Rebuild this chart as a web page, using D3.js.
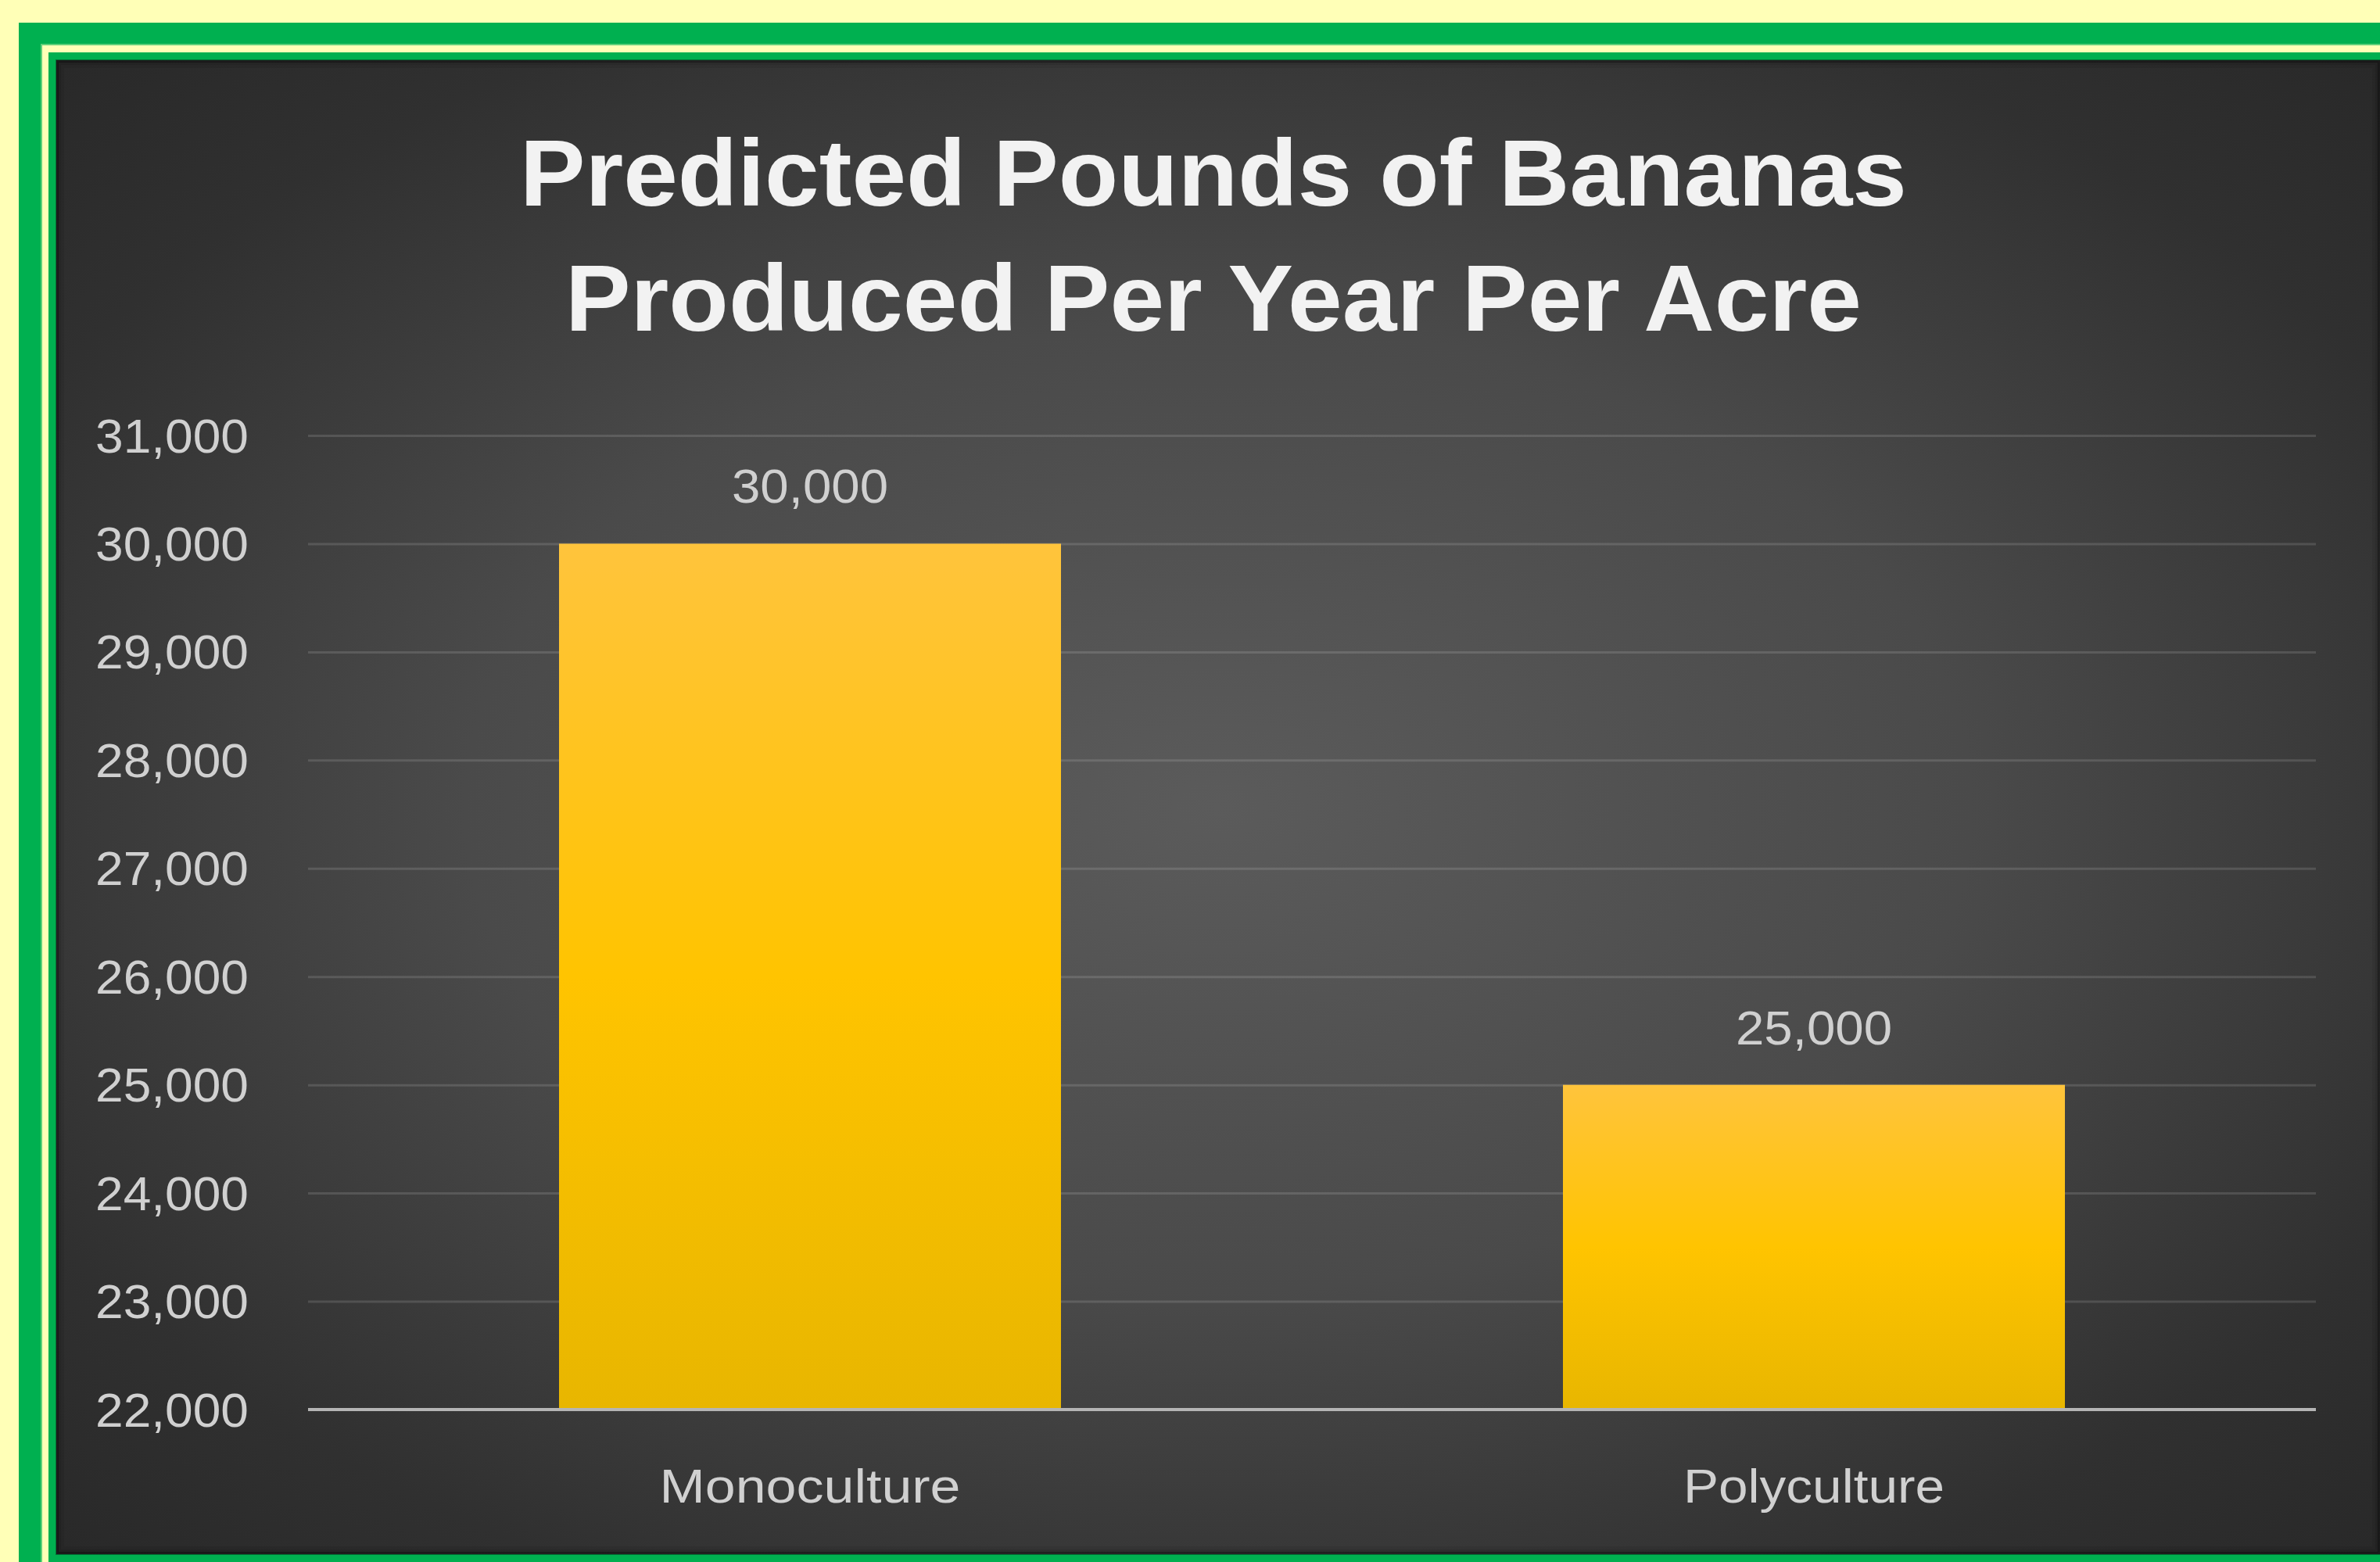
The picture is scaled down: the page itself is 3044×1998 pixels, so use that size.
<!DOCTYPE html>
<html>
<head>
<meta charset="utf-8">
<script src="https://cdn.jsdelivr.net/npm/d3@7"></script>
<style>
  html, body { margin: 0; padding: 0; background: #ffffb7; }
  svg { display: block; }
</style>
</head>
<body>
<svg id="chart" width="3044" height="1998"></svg>
<script>
// ---- data ----
const categories = ["Monoculture", "Polyculture"];
const values = [30000, 25000];
const yTicks = [22000, 23000, 24000, 25000, 26000, 27000, 28000, 29000, 30000, 31000];
const titleLines = ["Predicted Pounds of Bananas", "Produced Per Year Per Acre"];
const yDomain = [22000, 31000];

// ---- layout ----
const W = 3044, H = 1998;
const svg = d3.select("#chart");
const defs = svg.append("defs");

const FONT = "'Liberation Sans', Arial, sans-serif";

// frame
svg.append("rect").attr("x", 0).attr("y", 0).attr("width", W).attr("height", H).attr("fill", "#ffffb7");
svg.append("rect").attr("x", 24).attr("y", 29).attr("width", W).attr("height", H).attr("fill", "#00b050");
svg.append("rect").attr("x", 53).attr("y", 57).attr("width", W).attr("height", H).attr("fill", "#ffffb7")
   .attr("stroke", "#5fd07a").attr("stroke-width", 2);
svg.append("rect").attr("x", 62).attr("y", 67).attr("width", W).attr("height", H).attr("fill", "#00b050");

// panel background
const rg = defs.append("radialGradient").attr("id", "bg")
  .attr("cx", "0.5").attr("cy", "0.5").attr("r", "0.72");
rg.append("stop").attr("offset", "0").attr("stop-color", "#5b5b5b");
rg.append("stop").attr("offset", "0.45").attr("stop-color", "#4a4a4a");
rg.append("stop").attr("offset", "0.8").attr("stop-color", "#303030");
rg.append("stop").attr("offset", "1").attr("stop-color", "#282828");

const panel = {x: 72, y: 77, w: W - 72, h: 1988 - 77};
svg.append("rect").attr("x", panel.x).attr("y", panel.y).attr("width", panel.w).attr("height", panel.h)
   .attr("fill", "url(#bg)");
// inner edge shadow
const edge = svg.append("g").attr("fill", "none");
[[1, 0.35], [4, 0.15], [8, 0.07]].forEach(([o, a]) => {
  edge.append("rect").attr("x", panel.x + o).attr("y", panel.y + o)
    .attr("width", panel.w - 2 * o).attr("height", panel.h - 2 * o)
    .attr("stroke", `rgba(0,0,0,${a})`).attr("stroke-width", 4);
});

// bar gradient
const bg = defs.append("linearGradient").attr("id", "barGrad")
  .attr("x1", 0).attr("y1", 0).attr("x2", 0).attr("y2", 1);
bg.append("stop").attr("offset", "0").attr("stop-color", "#ffc43c");
bg.append("stop").attr("offset", "0.5").attr("stop-color", "#ffc400");
bg.append("stop").attr("offset", "1").attr("stop-color", "#e8b600");

// scales
const plot = {left: 394, right: 2962, top: 557, bottom: 1803};
const x = d3.scaleBand().domain(categories).range([plot.left, plot.right])
  .paddingInner(0.5).paddingOuter(0.25);
const y = d3.scaleLinear().domain(yDomain).range([plot.bottom, plot.top]);
const fmt = d3.format(",");

// title
const title = svg.append("g").attr("font-family", FONT).attr("font-weight", "bold")
  .attr("fill", "#f2f2f2").attr("font-size", 120).attr("text-anchor", "middle");
const titleY = [263, 423];
const titleW = [1774, 1658];
titleLines.forEach((t, i) => {
  title.append("text").attr("x", 1552).attr("y", titleY[i])
    .attr("textLength", titleW[i]).attr("lengthAdjust", "spacingAndGlyphs").text(t);
});

// gridlines
const grid = d3.axisLeft(y).tickValues(yTicks).tickSize(-(plot.right - plot.left)).tickFormat("");
const gg = svg.append("g").attr("transform", `translate(${plot.left},0)`).call(grid);
gg.select(".domain").remove();
gg.selectAll(".tick line").attr("stroke", "rgba(255,255,255,0.13)").attr("stroke-width", 3);
gg.selectAll(".tick").filter(d => d === yDomain[0]).remove();

// y axis labels
const yAxis = d3.axisLeft(y).tickValues(yTicks).tickSize(0).tickPadding(0).tickFormat(fmt);
const ya = svg.append("g").attr("transform", `translate(318,0)`).call(yAxis);
ya.select(".domain").remove();
ya.selectAll(".tick text").attr("font-family", FONT).attr("font-size", 62)
  .attr("fill", "#d0d0d0").attr("dy", null).attr("dominant-baseline", null)
  .attr("y", 21).attr("textLength", 196).attr("lengthAdjust", "spacingAndGlyphs");

// bars
svg.append("g").selectAll("rect").data(categories).join("rect")
  .attr("x", d => x(d)).attr("width", x.bandwidth())
  .attr("y", (d, i) => y(values[i])).attr("height", (d, i) => y(yDomain[0]) - y(values[i]))
  .attr("fill", "url(#barGrad)");

// base axis line
const xAxis = d3.axisBottom(x).tickSize(0).tickPadding(0);
const xa = svg.append("g").attr("transform", `translate(0,${plot.bottom})`).call(xAxis);
xa.select(".domain").attr("d", `M${plot.left},0H${plot.right}`).attr("stroke", "#b5b5b5").attr("stroke-width", 4);
const catW = {Monoculture: 385, Polyculture: 334};
xa.selectAll(".tick text").attr("font-family", FONT).attr("font-size", 62).attr("fill", "#d0d0d0")
  .attr("dy", null).attr("y", 119)
  .attr("textLength", d => catW[d]).attr("lengthAdjust", "spacingAndGlyphs");

// data labels
svg.append("g").selectAll("text").data(categories).join("text")
  .attr("x", d => x(d) + x.bandwidth() / 2)
  .attr("y", (d, i) => y(values[i]) - 52)
  .attr("text-anchor", "middle").attr("font-family", FONT).attr("font-size", 62)
  .attr("fill", "#d0d0d0").attr("textLength", 200).attr("lengthAdjust", "spacingAndGlyphs")
  .text((d, i) => fmt(values[i]));
</script>
</body>
</html>
